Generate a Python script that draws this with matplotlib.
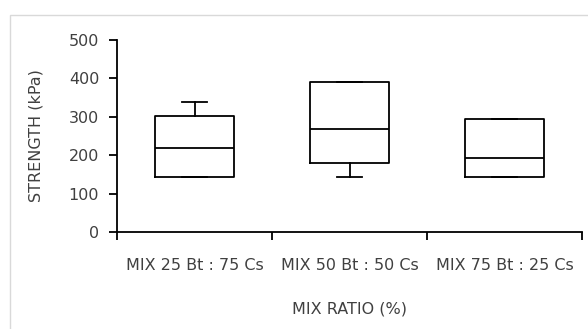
import matplotlib.pyplot as plt
from matplotlib.patches import Rectangle

categories = ['MIX 25 Bt : 75 Cs', 'MIX 50 Bt : 50 Cs', 'MIX 75 Bt : 25 Cs']
q1 = [142, 179, 142]
median = [220, 267, 194]
q3 = [303, 391, 293]
lo = [142, 142, 142]
hi = [339, 391, 293]
yticks = [0, 100, 200, 300, 400, 500]

plt.rcParams['font.family'] = ['DejaVu Sans']
txt = '#404040'
fs = 11.5

fig = plt.figure(figsize=(5.88, 3.29), dpi=100)
fig.patches.append(Rectangle((10/588, -0.5), 1.2, 1.5 - 15/329, transform=fig.transFigure,
                             fill=False, edgecolor='#d9d9d9', linewidth=1.0))
ax = fig.add_axes([117/588, 1-232/329, 465/588, 192/329])

stats = []
for i in range(len(categories)):
    stats.append(dict(med=median[i], q1=q1[i], q3=q3[i], whislo=lo[i], whishi=hi[i], fliers=[]))

lp = dict(color='black', linewidth=1.3)
ax.bxp(stats, positions=[0.5, 1.5, 2.5], widths=0.51, showfliers=False,
       boxprops=lp, medianprops=lp, whiskerprops=lp, capprops=lp, capwidths=0.16)

ax.set_xlim(0, 3)
ax.set_ylim(0, 500)
ax.set_yticks(yticks)
ax.set_xticks([0, 1, 2, 3])
ax.set_xticklabels([])
ax.set_xticks([0.5, 1.5, 2.5], minor=True)
ax.set_xticklabels(categories, minor=True, fontsize=fs, color=txt)
ax.tick_params(axis='x', which='minor', length=0, pad=19)
ax.tick_params(axis='x', which='major', length=5.8, width=1.3, direction='out')
ax.tick_params(axis='y', length=5.8, width=1.3, labelsize=fs, labelcolor=txt, pad=7)

for s in ['top', 'right']:
    ax.spines[s].set_visible(False)
for s in ['left', 'bottom']:
    ax.spines[s].set_linewidth(1.3)

ax.set_ylabel('STRENGTH (kPa)', fontsize=fs, color=txt, labelpad=18)
ax.set_xlabel('MIX RATIO (%)', fontsize=fs, color=txt, labelpad=20)

fig.savefig('out.png', dpi=100)
